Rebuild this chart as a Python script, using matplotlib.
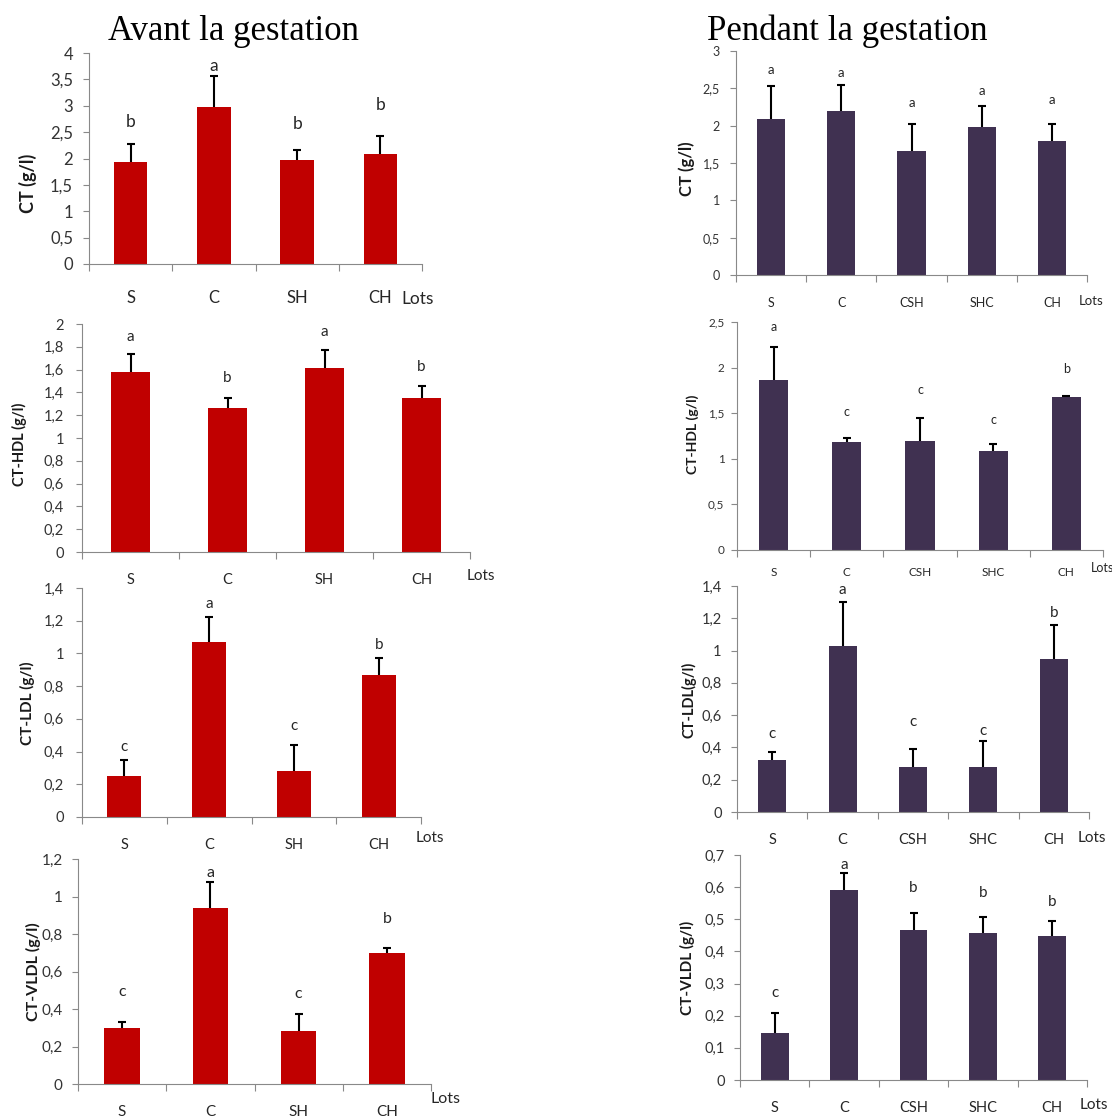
import numpy as np
import matplotlib.pyplot as plt
from matplotlib.ticker import FuncFormatter

plt.rcParams['font.family'] = ['Lato', 'DejaVu Sans']

# Groupes
lots_avant = ['S', 'C', 'SH', 'CH']
lots_pendant = ['S', 'C', 'CSH', 'SHC', 'CH']

# Avant la gestation (moyenne, ecart-type, lettres)
ct_av = [1.93, 2.97, 1.97, 2.08]
ct_av_sd = [0.34, 0.60, 0.20, 0.35]
ct_av_let = ['b', 'a', 'b', 'b']
ct_av_ly = [2.70, 3.75, 2.66, 3.02]

hdl_av = [1.58, 1.26, 1.61, 1.35]
hdl_av_sd = [0.16, 0.09, 0.16, 0.11]
hdl_av_let = ['a', 'b', 'a', 'b']
hdl_av_ly = [1.89, 1.53, 1.93, 1.62]

ldl_av = [0.253, 1.072, 0.283, 0.87]
ldl_av_sd = [0.097, 0.148, 0.157, 0.10]
ldl_av_let = ['c', 'a', 'c', 'b']
ldl_av_ly = [0.43, 1.30, 0.554, 1.054]

vldl_av = [0.297, 0.938, 0.283, 0.698]
vldl_av_sd = [0.033, 0.137, 0.089, 0.03]
vldl_av_let = ['c', 'a', 'c', 'b']
vldl_av_ly = [0.493, 1.125, 0.48, 0.88]

# Pendant la gestation
ct_pd = [2.09, 2.19, 1.66, 1.98, 1.79]
ct_pd_sd = [0.44, 0.35, 0.36, 0.28, 0.23]
ct_pd_let = ['a', 'a', 'a', 'a', 'a']
ct_pd_ly = [2.74, 2.71, 2.31, 2.47, 2.34]

hdl_pd = [1.86, 1.18, 1.20, 1.09, 1.675]
hdl_pd_sd = [0.37, 0.05, 0.25, 0.07, 0.015]
hdl_pd_let = ['a', 'c', 'c', 'c', 'b']
hdl_pd_ly = [2.45, 1.51, 1.75, 1.43, 1.99]

ldl_pd = [0.324, 1.03, 0.28, 0.28, 0.95]
ldl_pd_sd = [0.046, 0.27, 0.11, 0.16, 0.21]
ldl_pd_let = ['c', 'a', 'c', 'c', 'b']
ldl_pd_ly = [0.485, 1.375, 0.555, 0.503, 1.235]

vldl_pd = [0.145, 0.591, 0.467, 0.458, 0.448]
vldl_pd_sd = [0.064, 0.053, 0.053, 0.05, 0.047]
vldl_pd_let = ['c', 'a', 'b', 'b', 'b']
vldl_pd_ly = [0.27, 0.668, 0.597, 0.582, 0.553]

ROUGE = '#C00000'
VIOLET = '#403151'
GRIS = '#898989'

W, H = 1112, 1118
fig = plt.figure(figsize=(W / 100, H / 100), dpi=100)


def add_ax(x0, y0, x1, y1):
    return fig.add_axes([x0 / W, 1 - y1 / H, (x1 - x0) / W, (y1 - y0) / H])


def px(p):  # pixels -> points
    return p * 0.72


# (boite px, lots, moy, sd, lettres, y lettres, couleur, ylabel, ymax, pas,
#  taille ticks, pad ticks, taille ylabel, pos ylabel, dy lots, (dx, dy) "Lots")
panneaux = [
    ((89, 53, 422, 264), lots_avant, ct_av, ct_av_sd, ct_av_let, ct_av_ly, ROUGE,
     'CT (g/l)', 4, 0.5, 12, 7.5, 13, (-0.183, 0.384), 34, (-4, 35)),
    ((82, 324, 470, 552), lots_avant, hdl_av, hdl_av_sd, hdl_av_let, hdl_av_ly, ROUGE,
     'CT-HDL (g/l)', 2, 0.2, 10.5, 9, 10.5, (-0.16, 0.474), 28, (11, 24)),
    ((82, 588, 421, 817), lots_avant, ldl_av, ldl_av_sd, ldl_av_let, ldl_av_ly, ROUGE,
     'CT-LDL (g/l)', 1.4, 0.2, 10.5, 9, 11, (-0.162, 0.498), 28, (9, 21)),
    ((78, 859, 431, 1084), lots_avant, vldl_av, vldl_av_sd, vldl_av_let, vldl_av_ly, ROUGE,
     'CT-VLDL (g/l)', 1.2, 0.2, 11, 7, 11.5, (-0.125, 0.498), 28, (14, 15)),
    ((736, 51, 1087, 275), lots_pendant, ct_pd, ct_pd_sd, ct_pd_let, ct_pd_ly, VIOLET,
     'CT (g/l)', 3, 0.5, 9, 7.5, 12, (-0.14, 0.473), 28, (4, 26)),
    ((737, 322, 1103, 550), lots_pendant, hdl_pd, hdl_pd_sd, hdl_pd_let, hdl_pd_ly, VIOLET,
     'CT-HDL (g/l)', 2.5, 0.5, 8.5, 5, 10, (-0.12, 0.509), 23, (-1, 18)),
    ((737, 586, 1089, 812), lots_pendant, ldl_pd, ldl_pd_sd, ldl_pd_let, ldl_pd_ly, VIOLET,
     'CT-LDL(g/l)', 1.4, 0.2, 10.5, 7, 10.5, (-0.136, 0.496), 28, (3, 26)),
    ((740, 855, 1087, 1080), lots_pendant, vldl_pd, vldl_pd_sd, vldl_pd_let, vldl_pd_ly, VIOLET,
     'CT-VLDL (g/l)', 0.7, 0.1, 10.5, 7, 11, (-0.15, 0.498), 28, (7, 25)),
]

virgule = FuncFormatter(lambda v, _: f'{v:.10g}'.replace('.', ','))

for (box, lots, moy, sd, let, ly, coul, ylab, ymax, pas,
     fs, pad, fs_lab, lab_xy, dy_lots, lots_off) in panneaux:
    ax = add_ax(*box)
    n = len(lots)
    x = np.arange(n)
    ax.bar(x, moy, width=0.4, color=coul, zorder=2)
    _, caps, _ = ax.errorbar(x, moy, yerr=[[0] * n, sd], fmt='none', ecolor='black',
                             elinewidth=1.5, capsize=3, capthick=1.5, zorder=3)
    caps[0].set_visible(False)  # pas de trait au sommet des barres
    for i in range(n):
        ax.text(i, ly[i], let[i], ha='center', va='center', fontsize=fs + 0.5,
                color='#262626')
        ax.annotate(lots[i], xy=(i, 0), xycoords=('data', 'axes fraction'),
                    xytext=(0, -px(dy_lots)), textcoords='offset points',
                    ha='center', va='center', fontsize=fs, color='#262626')
    ax.annotate('Lots', xy=(1, 0), xycoords='axes fraction',
                xytext=(px(lots_off[0]), -px(lots_off[1])), textcoords='offset points',
                ha='center', va='center', fontsize=fs + 0.5, color='#262626')

    ax.set_xlim(-0.5, n - 0.5)
    ax.set_ylim(0, ymax)
    ax.set_xticks(np.arange(n + 1) - 0.5)
    ax.set_xticklabels([])
    ax.set_yticks(np.arange(0, ymax + pas / 2, pas))
    ax.yaxis.set_major_formatter(virgule)
    ax.tick_params(axis='x', length=5, width=0.8, color=GRIS)
    ax.tick_params(axis='y', length=4, width=0.8, color=GRIS, labelsize=fs,
                   labelcolor='#333333', pad=pad)
    for s in ['top', 'right']:
        ax.spines[s].set_visible(False)
    for s in ['left', 'bottom']:
        ax.spines[s].set_color(GRIS)
        ax.spines[s].set_linewidth(0.8)
    ax.set_ylabel(ylab, fontsize=fs_lab, fontweight='bold', color='#1a1a1a',
                  va='center')
    ax.yaxis.set_label_coords(*lab_xy)

fig.text(233 / W, 1 - 31 / H, 'Avant la gestation', family='Liberation Serif',
         fontsize=25, ha='center', va='center')
fig.text(847 / W, 1 - 31 / H, 'Pendant la gestation', family='Liberation Serif',
         fontsize=25, ha='center', va='center')

fig.savefig('out.png', dpi=100)
